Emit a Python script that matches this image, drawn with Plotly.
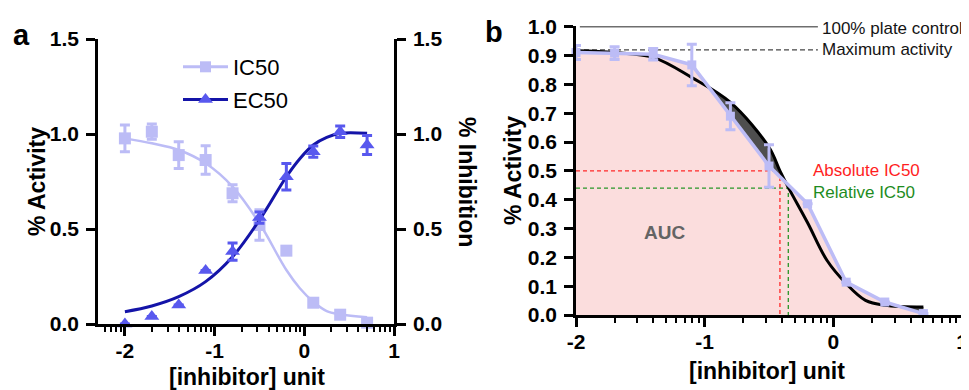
import numpy as np
import plotly.graph_objects as go

# ---------------- data ----------------
# Panel a
conc_a = [-2.0, -1.7, -1.4, -1.1, -0.8, -0.5, -0.2, 0.1, 0.4, 0.7]
ic50_act = [0.977, 1.012, 0.889, 0.863, 0.688, 0.521, 0.386, 0.112, 0.049, 0.007]
ic50_err = [0.07, 0.04, 0.07, 0.075, 0.045, 0.08, 0.0, 0.0, 0.0, 0.0]
ec50_inh = [0.0, 0.039, 0.10, 0.281, 0.381, 0.56, 0.775, 0.907, 1.012, 0.942]
ec50_err = [0.0, 0.0, 0.0, 0.0, 0.045, 0.03, 0.07, 0.03, 0.03, 0.05]

fit_x_a = [-2.0, -1.7, -1.4, -1.1, -0.8, -0.5, -0.2, -0.05, 0.1, 0.25, 0.4, 0.7]
ic50_fit = [0.977, 0.951, 0.916, 0.846, 0.723, 0.53, 0.284, 0.188, 0.117, 0.068, 0.051, 0.035]
ec50_fit = [0.065, 0.095, 0.144, 0.223, 0.354, 0.547, 0.775, 0.87, 0.942, 0.982, 1.004, 1.004]

# Panel b
conc_b = [-2.0, -1.7, -1.4, -1.1, -0.8, -0.5, -0.2, 0.1, 0.4, 0.7]
act_b = [0.911, 0.909, 0.905, 0.868, 0.69, 0.517, 0.386, 0.114, 0.045, 0.005]
act_b_err = [0.024, 0.022, 0.02, 0.072, 0.047, 0.074, 0.0, 0.0, 0.0, 0.0]

fit_x_b = [-2.0, -1.7, -1.4, -1.1, -0.8, -0.5, -0.415, -0.35, -0.2, -0.05, 0.1, 0.25, 0.4, 0.7]
fit_y_b = [0.917, 0.911, 0.894, 0.824, 0.738, 0.582, 0.50, 0.443, 0.32, 0.19, 0.109, 0.051, 0.034, 0.028]

abs_ic50_x = -0.415
abs_ic50_level = 0.5
rel_ic50_x = -0.35
rel_ic50_level = 0.44
plate_control_level = 1.0
max_activity_level = 0.92
ref_line_end_x = -0.12

x_ticks = [-2, -1, 0, 1]
x_ticktext = ["-2", "-1", "0", "1"]
ya_ticks = [0.0, 0.5, 1.0, 1.5]
ya_ticktext = ["0.0", "0.5", "1.0", "1.5"]
yb_ticks = [0.0, 0.1, 0.2, 0.3, 0.4, 0.5, 0.6, 0.7, 0.8, 0.9, 1.0]
yb_ticktext = ["0.0", "0.1", "0.2", "0.3", "0.4", "0.5", "0.6", "0.7", "0.8", "0.9", "1.0"]

# ---------------- style ----------------
# the page body has an 8px margin, so the figure is drawn 8px smaller and all
# page-pixel positions are shifted by that offset
OFF = 8
W, H = 969 - OFF, 390 - OFF
FONT = "Liberation Sans, Arial, sans-serif"
LAV = "rgb(188,188,246)"
DARK = "rgb(20,20,168)"
TRI = "rgb(88,88,238)"
PINK = "rgb(251,221,221)"
GRAY = "rgb(78,78,78)"


def px(x):
    return (x - OFF) / W


def py(y):
    return 1 - (y - OFF) / H


minor_vals = [d + np.log10(k) for d in range(-3, 1) for k in range(2, 10)]

fig = go.Figure()

# ---- panel a ----
fig.add_trace(go.Scatter(x=fit_x_a, y=ic50_fit, mode="lines", line=dict(color=LAV, width=2.5, shape="spline"),
                         xaxis="x", yaxis="y", showlegend=False, hoverinfo="skip"))
fig.add_trace(go.Scatter(x=conc_a, y=ic50_act, mode="markers",
                         marker=dict(symbol="square", size=12, color=LAV),
                         error_y=dict(type="data", array=ic50_err, color=LAV, thickness=3, width=5),
                         xaxis="x", yaxis="y", showlegend=False, cliponaxis=False))
fig.add_trace(go.Scatter(x=fit_x_a, y=ec50_fit, mode="lines", line=dict(color=DARK, width=3, shape="spline"),
                         xaxis="x", yaxis="y3", showlegend=False, hoverinfo="skip"))
fig.add_trace(go.Scatter(x=conc_a, y=ec50_inh, mode="markers",
                         marker=dict(symbol="triangle-up", size=13, color=TRI),
                         error_y=dict(type="data", array=ec50_err, color=TRI, thickness=3, width=5),
                         xaxis="x", yaxis="y3", showlegend=False, cliponaxis=False))
# legend entries
fig.add_trace(go.Scatter(x=[None], y=[None], mode="lines+markers", name="IC50",
                         line=dict(color=LAV, width=3), marker=dict(symbol="square", size=11, color=LAV),
                         xaxis="x", yaxis="y", legendgroup="g1"))
fig.add_trace(go.Scatter(x=[None], y=[None], mode="lines+markers", name="EC50",
                         line=dict(color=DARK, width=3), marker=dict(symbol="triangle-up", size=13, color=TRI),
                         xaxis="x", yaxis="y", legendgroup="g2"))

# ---- panel b ----
fig.add_trace(go.Scatter(x=fit_x_b, y=fit_y_b, mode="lines", line=dict(width=0, shape="spline", color=GRAY),
                         fill="tozeroy", fillcolor=GRAY, xaxis="x2", yaxis="y2", showlegend=False, hoverinfo="skip"))
fig.add_trace(go.Scatter(x=conc_b, y=act_b, mode="lines", line=dict(width=0, color=PINK),
                         fill="tozeroy", fillcolor=PINK, xaxis="x2", yaxis="y2", showlegend=False, hoverinfo="skip"))
fig.add_trace(go.Scatter(x=[-2, abs_ic50_x, abs_ic50_x], y=[abs_ic50_level, abs_ic50_level, 0], mode="lines",
                         line=dict(color="rgb(255,40,40)", width=1.3, dash="4px,3px"),
                         xaxis="x2", yaxis="y2", showlegend=False, hoverinfo="skip"))
fig.add_trace(go.Scatter(x=[-2, rel_ic50_x, rel_ic50_x], y=[rel_ic50_level, rel_ic50_level, 0], mode="lines",
                         line=dict(color="rgb(40,150,40)", width=1.3, dash="4px,3px"),
                         xaxis="x2", yaxis="y2", showlegend=False, hoverinfo="skip"))
fig.add_trace(go.Scatter(x=[-1.97, ref_line_end_x], y=[plate_control_level, plate_control_level], mode="lines",
                         line=dict(color="rgb(110,110,110)", width=1.5),
                         xaxis="x2", yaxis="y2", showlegend=False, hoverinfo="skip"))
fig.add_trace(go.Scatter(x=[-2, ref_line_end_x], y=[max_activity_level, max_activity_level], mode="lines",
                         line=dict(color="rgb(70,70,70)", width=1.3, dash="5px,3px"),
                         xaxis="x2", yaxis="y2", showlegend=False, hoverinfo="skip"))
fig.add_trace(go.Scatter(x=fit_x_b, y=fit_y_b, mode="lines", line=dict(color="black", width=3, shape="spline"),
                         xaxis="x2", yaxis="y2", showlegend=False, hoverinfo="skip"))
fig.add_trace(go.Scatter(x=conc_b, y=act_b, mode="lines+markers",
                         line=dict(color=LAV, width=3.5),
                         marker=dict(symbol="square", size=9, color=LAV),
                         error_y=dict(type="data", array=act_b_err, color=LAV, thickness=3, width=5),
                         xaxis="x2", yaxis="y2", showlegend=False, cliponaxis=False))

tickfont = dict(family=FONT, size=21, color="black", weight="bold")
common_x = dict(showline=True, linecolor="black", linewidth=2.5, ticks="outside", ticklen=9, tickwidth=2.5,
                tickcolor="black", showgrid=False, zeroline=False, tickmode="array", tickvals=x_ticks,
                ticktext=x_ticktext, tickfont=tickfont, ticklabelstandoff=-3, automargin=False,
                minor=dict(tickmode="array", tickvals=minor_vals, ticks="outside", ticklen=5, tickwidth=2,
                           tickcolor="black", showgrid=False))
common_y = dict(showline=True, linecolor="black", linewidth=2.5, ticks="outside", ticklen=9, tickwidth=2.5,
                tickcolor="black", showgrid=False, zeroline=False, tickfont=tickfont, tickmode="array",
                ticklabelstandoff=3, automargin=False)

fig.update_layout(
    template="none",
    width=W, height=H,
    margin=dict(l=0, r=0, t=0, b=0, pad=0, autoexpand=False),
    paper_bgcolor="white", plot_bgcolor="rgba(0,0,0,0)",
    font=dict(family=FONT, color="black"),
    xaxis=dict(domain=[px(98), px(394)], range=[-2.3, 1.0], anchor="y", **common_x),
    yaxis=dict(domain=[py(324), py(39)], range=[0, 1.5], anchor="x", tickvals=ya_ticks, ticktext=ya_ticktext,
               **common_y),
    yaxis3=dict(range=[0, 1.5], anchor="x", overlaying="y", side="right", tickvals=ya_ticks,
                ticktext=ya_ticktext, **common_y),
    xaxis2=dict(domain=[px(576), px(962)], range=[-2, 1.0], anchor="y2", **common_x),
    yaxis2=dict(domain=[py(315), py(26)], range=[0, 1.003], anchor="x2", tickvals=yb_ticks,
                ticktext=yb_ticktext, **common_y),
    legend=dict(x=px(178), y=py(46), xanchor="left", yanchor="top", bgcolor="rgba(0,0,0,0)",
                font=dict(family=FONT, size=22, color="black"), traceorder="grouped", tracegroupgap=1,
                itemwidth=45, borderwidth=0),
    showlegend=True,
)

title_font = dict(family=FONT, size=23, color="black", weight="bold")
ann = [
    dict(text="a", x=px(21), y=py(35), font=dict(family=FONT, size=29, color="black", weight="bold")),
    dict(text="b", x=px(494), y=py(32), font=dict(family=FONT, size=29, color="black", weight="bold")),
    dict(text="% Activity", x=px(37), y=py(182), textangle=-90, font=title_font),
    dict(text="% Inhibition", x=px(467), y=py(182), textangle=90, font=title_font),
    dict(text="[inhibitor] unit", x=px(247), y=py(377), font=title_font),
    dict(text="% Activity", x=px(513), y=py(170), textangle=-90, font=title_font),
    dict(text="[inhibitor] unit", x=px(767), y=py(371), font=title_font),
]
for a in ann:
    fig.add_annotation(xref="paper", yref="paper", showarrow=False, xanchor="center", yanchor="middle", **a)

txt = dict(family=FONT, size=17)
fig.add_annotation(xref="x2", yref="y2", x=-0.1, y=0.994, text="100% plate control", showarrow=False,
                   xanchor="left", yanchor="middle", font=dict(color="rgb(20,20,20)", **txt))
fig.add_annotation(xref="x2", yref="y2", x=-0.1, y=0.923, text="Maximum activity", showarrow=False,
                   xanchor="left", yanchor="middle", font=dict(color="rgb(20,20,20)", **txt))
fig.add_annotation(xref="x2", yref="y2", x=-0.17, y=0.50, text="Absolute IC50", showarrow=False,
                   xanchor="left", yanchor="middle", font=dict(color="rgb(255,30,30)", **txt))
fig.add_annotation(xref="x2", yref="y2", x=-0.17, y=0.426, text="Relative IC50", showarrow=False,
                   xanchor="left", yanchor="middle", font=dict(color="rgb(30,140,30)", **txt))
fig.add_annotation(xref="x2", yref="y2", x=-1.316, y=0.288, text="AUC", showarrow=False,
                   xanchor="center", yanchor="middle",
                   font=dict(family=FONT, size=19, color="rgb(100,100,100)", weight="bold"))

fig.write_html("out.html")
